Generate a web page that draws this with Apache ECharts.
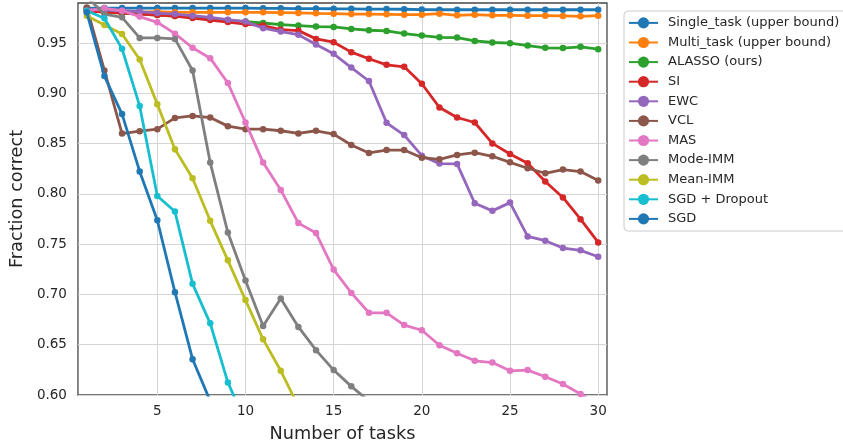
<!DOCTYPE html>
<html>
<head>
<meta charset="utf-8">
<script src="https://cdn.jsdelivr.net/npm/echarts@6/dist/echarts.min.js"></script>
<style>
html,body{margin:0;padding:0;background:#fff;}
#chart{width:843px;height:448px;}
</style>
</head>
<body>
<div id="chart"></div>
<script>
const tasks = [1,2,3,4,5,6,7,8,9,10,11,12,13,14,15,16,17,18,19,20,21,22,23,24,25,26,27,28,29,30];
const xTicks = [5,10,15,20,25,30];
const yTicks = [0.60,0.65,0.70,0.75,0.80,0.85,0.90,0.95];

const seriesNames = ["Single_task (upper bound)","Multi_task (upper bound)","ALASSO (ours)","SI","EWC","VCL","MAS","Mode-IMM","Mean-IMM","SGD + Dropout","SGD"];

const singleTask = [0.985,0.985,0.985,0.985,0.985,0.985,0.985,0.985,0.985,0.985,0.9847,0.9847,0.9845,0.9845,0.9843,0.9842,0.984,0.984,0.9838,0.9835,0.9833,0.9833,0.9833,0.9833,0.9833,0.9833,0.9833,0.9833,0.9833,0.9833];
const multiTask = [0.982,0.982,0.981,0.981,0.9813,0.9807,0.9807,0.9807,0.9807,0.9807,0.9807,0.9804,0.9801,0.9797,0.9794,0.979,0.979,0.9787,0.9784,0.9784,0.9794,0.9777,0.9784,0.9777,0.9777,0.9774,0.9774,0.9771,0.9767,0.9774];
const alasso = [0.983,0.981,0.980,0.979,0.978,0.977,0.976,0.974,0.973,0.9715,0.9701,0.9685,0.9675,0.9665,0.9662,0.9642,0.9629,0.9622,0.9596,0.9576,0.9559,0.9556,0.9523,0.9507,0.95,0.9477,0.9454,0.9452,0.9464,0.9441];
const si = [0.982,0.981,0.980,0.979,0.978,0.977,0.975,0.973,0.971,0.969,0.9675,0.9635,0.9625,0.9543,0.951,0.9411,0.9345,0.9285,0.9265,0.9097,0.886,0.8761,0.8711,0.8503,0.8398,0.8305,0.8124,0.7965,0.7749,0.7518];
const ewc = [0.984,0.983,0.9823,0.9815,0.980,0.979,0.9774,0.9757,0.9734,0.9715,0.9649,0.9616,0.9585,0.9487,0.9394,0.9258,0.9124,0.8708,0.8586,0.8381,0.8302,0.8299,0.7908,0.7832,0.7914,0.7578,0.7535,0.7462,0.7439,0.7376];
const vcl = [0.9856,0.9229,0.8601,0.8625,0.8645,0.8757,0.8777,0.876,0.8675,0.8645,0.8645,0.8629,0.8602,0.8629,0.8596,0.8487,0.8408,0.8437,0.8437,0.8361,0.8345,0.8388,0.8411,0.8375,0.8315,0.8256,0.8206,0.8243,0.8223,0.8134];
const mas = [0.9823,0.9847,0.9823,0.9765,0.9708,0.9595,0.9455,0.9351,0.9104,0.8711,0.8312,0.804,0.771,0.7611,0.7248,0.7016,0.6818,0.6818,0.6696,0.6644,0.6495,0.6416,0.634,0.6323,0.6241,0.6248,0.6182,0.6109,0.601,0.59];
const modeImm = [0.996,0.979,0.9757,0.9553,0.9553,0.9543,0.9229,0.8312,0.7617,0.7139,0.6686,0.696,0.6677,0.6446,0.6248,0.6086,0.594,null,null,null,null,null,null,null,null,null,null,null,null,null];
const meanImm = [0.9774,0.9682,0.9592,0.9338,0.8893,0.8444,0.8157,0.7733,0.734,0.6944,0.6554,0.6241,0.5886,null,null,null,null,null,null,null,null,null,null,null,null,null,null,null,null,null];
const sgdDropout = [0.9823,0.9748,0.9444,0.8876,0.798,0.7825,0.7106,0.6713,0.6125,0.573,null,null,null,null,null,null,null,null,null,null,null,null,null,null,null,null,null,null,null,null];
const sgd = [0.9807,0.9173,0.8795,0.8224,0.7739,0.7023,0.6356,0.594,null,null,null,null,null,null,null,null,null,null,null,null,null,null,null,null,null,null,null,null,null,null];

const allValues = [singleTask,multiTask,alasso,si,ewc,vcl,mas,modeImm,meanImm,sgdDropout,sgd];
const colors = ["#1f77b4","#ff7f0e","#2ca02c","#d62728","#9467bd","#8c564b","#e377c2","#7f7f7f","#bcbd22","#17becf","#1f77b4"];

const FONT = "DejaVu Sans";
const chart = echarts.init(document.getElementById('chart'), null, {renderer:'canvas'});

const series = seriesNames.map((name, i) => ({
  name: name,
  type: 'line',
  data: tasks.map((t, j) => [t, allValues[i][j]]).filter(p => p[1] !== null),
  symbol: 'circle',
  symbolSize: 6.5,
  showSymbol: true,
  clip: true,
  lineStyle: {width: 2.8, color: colors[i]},
  itemStyle: {color: colors[i]},
  emphasis: {disabled: true},
  z: 2 + i
}));

chart.setOption({
  animation: false,
  backgroundColor: '#ffffff',
  textStyle: {fontFamily: FONT},
  grid: {left: 77, right: 236, top: 3, bottom: 50, show: true, borderColor: '#474747', borderWidth: 1.3, backgroundColor: 'transparent'},
  legend: {
    orient: 'vertical',
    left: 624, top: 11,
    data: seriesNames,
    itemWidth: 29, itemHeight: 14, itemGap: 6.6,
    padding: [5.4, 20, 5.6, 4],
    borderColor: '#cccccc', borderWidth: 1, borderRadius: 4,
    backgroundColor: '#ffffff',
    textStyle: {fontFamily: FONT, fontSize: 13, color: '#262626', padding: [0,0,0,5]}
  },
  xAxis: {
    type: 'value', min: 0.5, max: 30.5,
    name: 'Number of tasks', nameLocation: 'middle', nameGap: 30,
    nameTextStyle: {fontFamily: FONT, fontSize: 17.7, color: '#262626'},
    axisLine: {show: false},
    axisTick: {show: false, customValues: xTicks},
    axisLabel: {customValues: xTicks, fontFamily: FONT, fontSize: 13.5, color: '#262626', margin: 9},
    splitLine: {show: true, lineStyle: {color: '#d5d5d5', width: 1}}
  },
  yAxis: {
    type: 'value', min: 0.6, max: 0.99,
    name: 'Fraction correct', nameLocation: 'middle', nameGap: 48,
    nameTextStyle: {fontFamily: FONT, fontSize: 17.7, color: '#262626'},
    axisLine: {show: false},
    axisTick: {show: false, customValues: yTicks},
    axisLabel: {customValues: yTicks, formatter: v => v.toFixed(2), fontFamily: FONT, fontSize: 13.5, color: '#262626', margin: 11},
    splitLine: {show: true, lineStyle: {color: '#d5d5d5', width: 1}}
  },
  series: series
});
</script>
</body>
</html>
